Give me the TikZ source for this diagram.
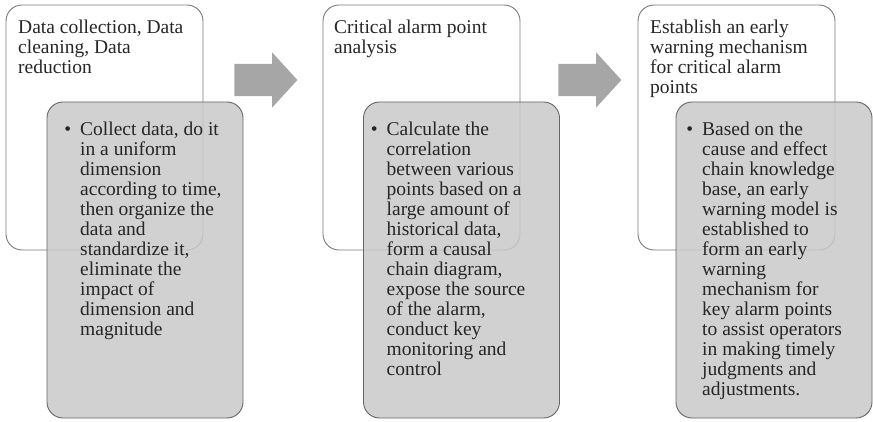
\documentclass[tikz,border=0pt]{standalone}
\usepackage{fontspec}
\setmainfont{Liberation Serif}
\usepackage{tikz}
\usetikzlibrary{shapes.arrows,positioning}
\definecolor{StageLine}{HTML}{7A7A7A}
\definecolor{DetailLine}{HTML}{666666}
\definecolor{DetailFill}{HTML}{C9C9C9}
\definecolor{FlowGray}{HTML}{A6A6A6}
\definecolor{InkGray}{HTML}{262626}
\newcommand{\itemdot}{\llap{\textbullet\hspace{9pt}}}

\begin{document}
\begin{tikzpicture}[x=1pt,y=-1pt,
  stage/.style={draw=StageLine,line width=0.9pt,rounded corners=16pt,
    minimum width=197pt,minimum height=245pt,inner sep=0pt},
  detail/.style={draw=DetailLine,line width=0.9pt,fill=DetailFill,fill opacity=0.85,
    rounded corners=16pt,minimum width=196pt,minimum height=316pt,inner sep=0pt},
  txt/.style={anchor=north west,align=left,inner sep=0pt,text=InkGray,
    font=\fontsize{19.5}{20}\selectfont},
  flow/.style={single arrow,fill=FlowGray,draw=none,inner xsep=0pt,inner ysep=16pt,
    minimum height=63pt,single arrow head extend=11.5pt,
    single arrow tip angle=95,single arrow head indent=0pt}]
  \useasboundingbox (0,0) rectangle (873,422);
  % Outer stage boxes
  \node[stage] (stage1) at (104.5,127.5) {};
  \node[stage] (stage2) at (421.5,127.5) {};
  \node[stage] (stage3) at (736.5,127.5) {};
  % Shaded detail boxes
  \node[detail] (detail1) at (145,260) {};
  \node[detail] (detail2) at (461.5,260) {};
  \node[detail] (detail3) at (774,260) {};
  % Arrows between stages
  \node[flow] (flow1) at (258.5,80) {};
  \node[flow] (flow2) at (582.5,80) {};
  % Stage titles
  \node[txt] (title1) at (18,19.4) {Data collection, Data\\cleaning, Data\\reduction};
  \node[txt] (title2) at (334,19.4) {Critical alarm point\\analysis};
  \node[txt] (title3) at (650,19.4) {Establish an early\\warning mechanism\\for critical alarm\\points};
  % Bullet texts
  \node[txt] (text1) at (80,121.7) {\itemdot Collect data, do it\\in a uniform\\dimension\\according to time,\\then organize the\\data and\\standardize it,\\eliminate the\\impact of\\dimension and\\magnitude};
  \node[txt] (text2) at (386.5,121.7) {\itemdot Calculate the\\correlation\\between various\\points based on a\\large amount of\\historical data,\\form a causal\\chain diagram,\\expose the source\\of the alarm,\\conduct key\\monitoring and\\control};
  \node[txt] (text3) at (702,121.7) {\itemdot Based on the\\cause and effect\\chain knowledge\\base, an early\\warning model is\\established to\\form an early\\warning\\mechanism for\\key alarm points\\to assist operators\\in making timely\\judgments and\\adjustments.};
\end{tikzpicture}
\end{document}
